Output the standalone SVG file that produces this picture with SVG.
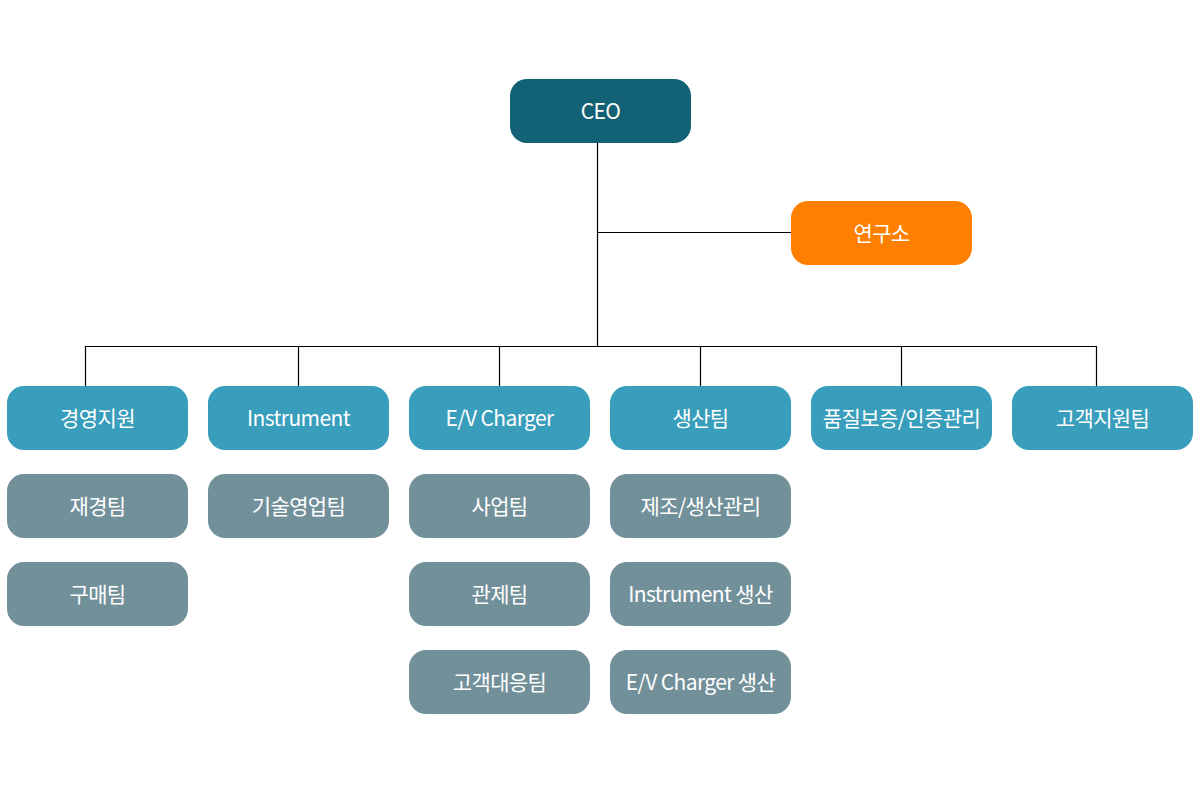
<svg xmlns="http://www.w3.org/2000/svg" width="1200" height="800" viewBox="0 0 1200 800">
<style>
.box{stroke:none}
.ceo{fill:#126174}
.lab{fill:#FF8000}
.dept{fill:#389EBB}
.team{fill:#72909A}
text{font-family:"Noto Sans CJK KR","Noto Sans",sans-serif;font-size:21px;fill:#ffffff;text-anchor:middle;letter-spacing:-0.6px}
.conn{stroke:#000000;stroke-width:1.2;fill:none}
</style>
<rect width="1200" height="800" fill="#ffffff"/>
<g id="connectors">
<path class="conn" d="M597.5 143V346"/>
<path class="conn" d="M597.5 232.5H791"/>
<path class="conn" d="M85.5 386V346.5H1096.5V386"/>
<path class="conn" d="M298.5 346.5V386"/>
<path class="conn" d="M499.5 346.5V386"/>
<path class="conn" d="M700.5 346.5V386"/>
<path class="conn" d="M901.5 346.5V386"/>
</g>
<g id="ceo"><rect class="box ceo" x="510" y="79" width="181" height="64" rx="17"/><text x="600.5" y="118.5">CEO</text></g>
<g id="lab"><rect class="box lab" x="791" y="201" width="181" height="64" rx="17"/><text x="881.5" y="240.5">연구소</text></g>

<g id="d1"><rect class="box dept" x="7" y="386" width="181" height="64" rx="17"/><text x="97.5" y="425.5">경영지원</text></g>
<g id="d2"><rect class="box dept" x="208" y="386" width="181" height="64" rx="17"/><text x="298.5" y="425.5">Instrument</text></g>
<g id="d3"><rect class="box dept" x="409" y="386" width="181" height="64" rx="17"/><text x="499.5" y="425.5">E/V Charger</text></g>
<g id="d4"><rect class="box dept" x="610" y="386" width="181" height="64" rx="17"/><text x="700.5" y="425.5">생산팀</text></g>
<g id="d5"><rect class="box dept" x="811" y="386" width="181" height="64" rx="17"/><text x="901.5" y="425.5">품질보증/인증관리</text></g>
<g id="d6"><rect class="box dept" x="1012" y="386" width="181" height="64" rx="17"/><text x="1102.5" y="425.5">고객지원팀</text></g>

<g id="t1a"><rect class="box team" x="7" y="474" width="181" height="64" rx="17"/><text x="97.5" y="513.5">재경팀</text></g>
<g id="t1b"><rect class="box team" x="7" y="562" width="181" height="64" rx="17"/><text x="97.5" y="601.5">구매팀</text></g>
<g id="t2a"><rect class="box team" x="208" y="474" width="181" height="64" rx="17"/><text x="298.5" y="513.5">기술영업팀</text></g>
<g id="t3a"><rect class="box team" x="409" y="474" width="181" height="64" rx="17"/><text x="499.5" y="513.5">사업팀</text></g>
<g id="t3b"><rect class="box team" x="409" y="562" width="181" height="64" rx="17"/><text x="499.5" y="601.5">관제팀</text></g>
<g id="t3c"><rect class="box team" x="409" y="650" width="181" height="64" rx="17"/><text x="499.5" y="689.5">고객대응팀</text></g>
<g id="t4a"><rect class="box team" x="610" y="474" width="181" height="64" rx="17"/><text x="700.5" y="513.5">제조/생산관리</text></g>
<g id="t4b"><rect class="box team" x="610" y="562" width="181" height="64" rx="17"/><text x="700.5" y="601.5">Instrument 생산</text></g>
<g id="t4c"><rect class="box team" x="610" y="650" width="181" height="64" rx="17"/><text x="700.5" y="689.5">E/V Charger 생산</text></g>
</svg>
